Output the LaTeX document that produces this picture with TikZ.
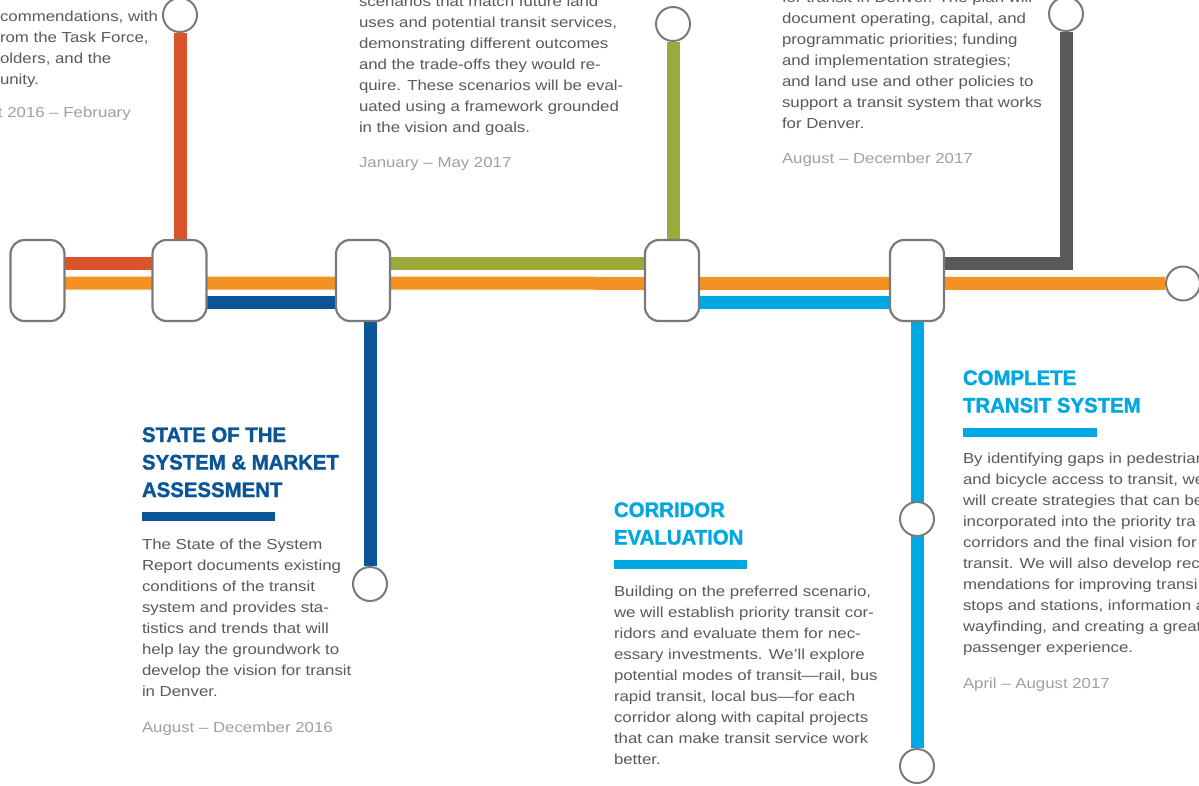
\documentclass[tikz,border=0pt]{standalone}
\usepackage{fontspec}
\usetikzlibrary{calc}
\newfontfamily\bodyfont[FakeStretch=1.16]{Liberation Sans}
\newfontfamily\titlefont[UprightFont={* Bold}, FakeBold=1.5, FakeStretch=0.97]{Liberation Sans}
\definecolor{cRed}{HTML}{D9542B}
\definecolor{cOrange}{HTML}{F39223}
\definecolor{cNavy}{HTML}{0B5596}
\definecolor{cOlive}{HTML}{9CAA3C}
\definecolor{cCyan}{HTML}{00A8E1}
\definecolor{cGrey}{HTML}{58595B}
\definecolor{cStroke}{HTML}{7A7A7A}
\definecolor{cText}{HTML}{5A5A5A}
\definecolor{cDate}{HTML}{A0A0A0}
\newcommand{\txtblock}[2]{\vtop{\baselineskip=#1\lineskiplimit=-40pt\lineskip=0pt #2}}
\pgfdeclarelayer{bg}
\pgfsetlayers{bg,main}
\tikzset{
  body/.style={anchor=base west, inner sep=0pt, outer sep=0pt, text=cText, font=\bodyfont\fontsize{14.5pt}{21pt}\selectfont},
  datetext/.style={body, text=cDate},
  heading/.style={anchor=base west, inner sep=0pt, outer sep=0pt, font=\titlefont\fontsize{21pt}{27.5pt}\selectfont},
  station/.style={draw=cStroke, fill=white, line width=2.2pt, rounded corners=14pt, minimum width=54pt, minimum height=81pt, inner sep=0pt},
  stop/.style={circle, draw=cStroke, fill=white, line width=2pt, minimum size=34pt, inner sep=0pt},
  route/.style={line width=13pt, line cap=butt, line join=miter},
}
\begin{document}
\begin{tikzpicture}[x=1pt,y=-1pt]
\useasboundingbox (0,0) rectangle (1199,785);

% stations
\node[station] (s1) at (37.5,280.5) {};
\node[station] (s2) at (179.5,280.5) {};
\node[station] (s3) at (363,280.5) {};
\node[station] (s4) at (672,280.5) {};
\node[station] (s5) at (917,280.5) {};

% stops
\node[stop] (c1) at (180,15) {};
\node[stop] (c3) at (370,584) {};
\node[stop] (c4) at (673,24) {};
\node[stop] (c5) at (917,519) {};
\node[stop] (c6) at (917,766) {};
\node[stop] (c7) at (1183,283.5) {};
\node[stop] (c8) at (1066,14) {};

\begin{pgfonlayer}{bg}
\fill[white] (0,0) rectangle (1199,785);
\draw[route, cOrange] ($(s1)+(0,2.5)$) -- (c7);
\draw[route, cRed] ($(s1)+(0,-17)$) -| (c1);
\draw[route, cNavy] ($(s2)+(0,22)$) -| (c3);
\draw[route, cOlive] ($(s3)+(0,-17)$) -| (c4);
\draw[route, cCyan] ($(s4)+(0,22)$) -| (c6);
\draw[route, cGrey] ($(s5)+(0,-17)$) -| (c8);
\end{pgfonlayer}

% top-left text
\node[body] (tl) at (0,21) {\txtblock{21pt}{\hbox{commendations, with}\hbox{rom the Task Force,}\hbox{olders, and the}\hbox{unity.}}};
\node[datetext] (tld) at (-2,117) {t 2016 – February};

% top-middle text
\node[body] (tm) at (359,6) {\txtblock{21pt}{\hbox{scenarios that match future land}\hbox{uses and potential transit services,}\hbox{demonstrating different outcomes}\hbox{and the trade-offs they would re-}\hbox{quire. These scenarios will be eval-}\hbox{uated using a framework grounded}\hbox{in the vision and goals.}}};
\node[datetext] (tmd) at (359,167) {January – May 2017};

% top-right text
\node[body] (tr) at (782,2) {\txtblock{21pt}{\hbox{for transit in Denver. The plan will}\hbox{document operating, capital, and}\hbox{programmatic priorities; funding}\hbox{and implementation strategies;}\hbox{and land use and other policies to}\hbox{support a transit system that works}\hbox{for Denver.}}};
\node[datetext] (trd) at (782,163) {August – December 2017};

% state of the system
\node[heading, text=cNavy] (h1) at (142,442) {\txtblock{27.5pt}{\hbox{STATE OF THE}\hbox{SYSTEM \& MARKET}\hbox{ASSESSMENT}}};
\fill[cNavy] (142,512) rectangle (275,521);
\node[body] (b1) at (142,549) {\txtblock{21pt}{\hbox{The State of the System}\hbox{Report documents existing}\hbox{conditions of the transit}\hbox{system and provides sta-}\hbox{tistics and trends that will}\hbox{help lay the groundwork to}\hbox{develop the vision for transit}\hbox{in Denver.}}};
\node[datetext] (d1) at (142,732) {August – December 2016};

% corridor evaluation
\node[heading, text=cCyan] (h2) at (614,517) {\txtblock{27.5pt}{\hbox{CORRIDOR}\hbox{EVALUATION}}};
\fill[cCyan] (614,560) rectangle (747,569);
\node[body] (b2) at (614,596) {\txtblock{21pt}{\hbox{Building on the preferred scenario,}\hbox{we will establish priority transit cor-}\hbox{ridors and evaluate them for nec-}\hbox{essary investments. We’ll explore}\hbox{potential modes of transit—rail, bus}\hbox{rapid transit, local bus—for each}\hbox{corridor along with capital projects}\hbox{that can make transit service work}\hbox{better.}}};

% complete transit system
\node[heading, text=cCyan] (h3) at (963,385) {\txtblock{27.5pt}{\hbox{COMPLETE}\hbox{TRANSIT SYSTEM}}};
\fill[cCyan] (963,428) rectangle (1097,437);
\node[body] (b3) at (963,463) {\txtblock{21pt}{\hbox{By identifying gaps in pedestrian}\hbox{and bicycle access to transit, we}\hbox{will create strategies that can be}\hbox{incorporated into the priority tra}\hbox{corridors and the final vision for}\hbox{transit. We will also develop rec}\hbox{mendations for improving transi}\hbox{stops and stations, information a}\hbox{wayfinding, and creating a great}\hbox{passenger experience.}}};
\node[datetext] (d3) at (963,688) {April – August 2017};
\end{tikzpicture}
\end{document}
